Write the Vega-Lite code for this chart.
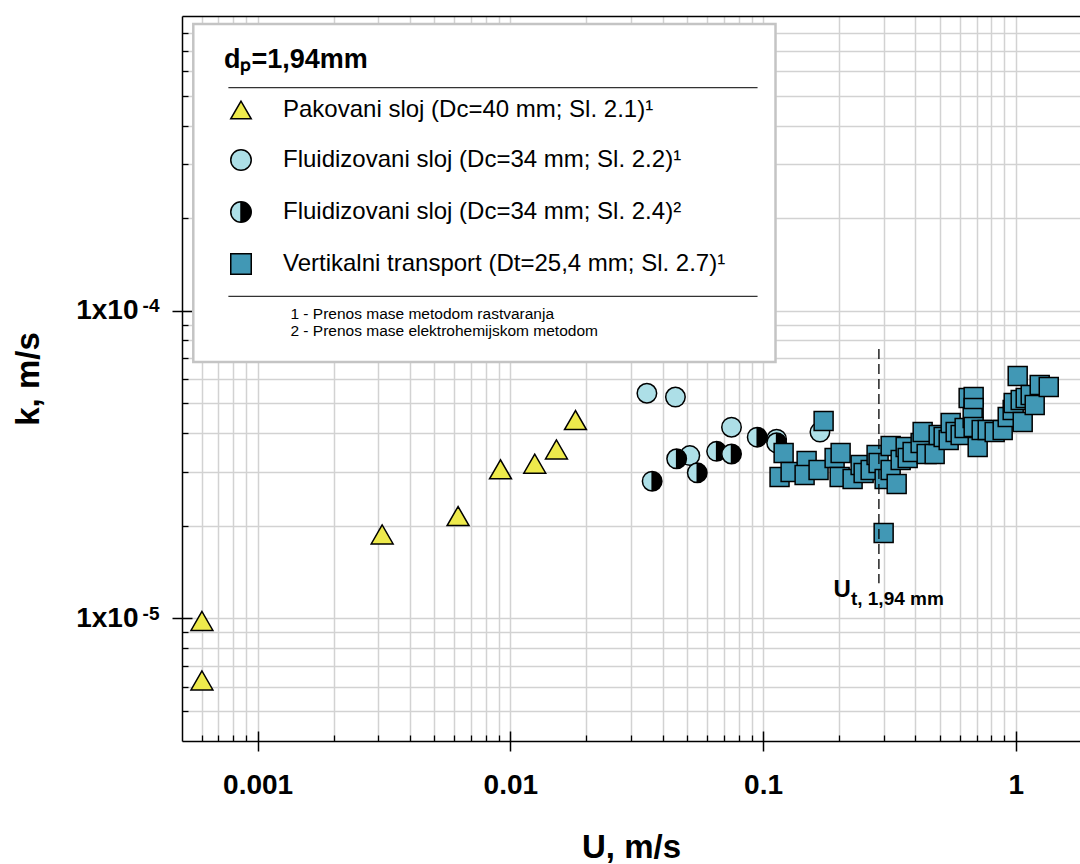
{
  "$schema": "https://vega.github.io/schema/vega-lite/v6.json",
  "width": 898,
  "height": 725,
  "autosize": "none",
  "padding": {"left": 182, "top": 16, "right": 0, "bottom": 123},
  "background": "white",
  "config": {"view": {"stroke": null}, "font": "Liberation Sans"},
  "data": {"values": [
    {"s":"A","U":0.000602,"k":0.00000628},
    {"s":"A","U":0.000602,"k":0.0000098},
    {"s":"A","U":0.00311,"k":0.00001873},
    {"s":"A","U":0.00621,"k":0.0000215},
    {"s":"A","U":0.00914,"k":0.0000305},
    {"s":"A","U":0.01249,"k":0.0000318},
    {"s":"A","U":0.01522,"k":0.0000354},
    {"s":"A","U":0.0181,"k":0.0000441},
    {"s":"B","U":0.0347,"k":0.0000539},
    {"s":"B","U":0.045,"k":0.0000524},
    {"s":"B","U":0.0513,"k":0.0000338},
    {"s":"B","U":0.075,"k":0.0000418},
    {"s":"B","U":0.1131,"k":0.0000382},
    {"s":"B","U":0.1679,"k":0.0000403},
    {"s":"C","U":0.0364,"k":0.0000279},
    {"s":"C","U":0.0455,"k":0.000033},
    {"s":"C","U":0.0549,"k":0.0000297},
    {"s":"C","U":0.0655,"k":0.0000349},
    {"s":"C","U":0.075,"k":0.0000342},
    {"s":"C","U":0.0948,"k":0.0000388},
    {"s":"C","U":0.1131,"k":0.0000372},
    {"s":"D","U":0.1206,"k":0.00003446},
    {"s":"D","U":0.1162,"k":0.00002879},
    {"s":"D","U":0.1285,"k":0.00002988},
    {"s":"D","U":0.1487,"k":0.00003246},
    {"s":"D","U":0.146,"k":0.00002923},
    {"s":"D","U":0.1658,"k":0.00003034},
    {"s":"D","U":0.1736,"k":0.0000438},
    {"s":"D","U":0.1919,"k":0.0000332},
    {"s":"D","U":0.2027,"k":0.00003446},
    {"s":"D","U":0.2009,"k":0.00002879},
    {"s":"D","U":0.2261,"k":0.00002837},
    {"s":"D","U":0.2432,"k":0.00003151},
    {"s":"D","U":0.25,"k":0.00002966},
    {"s":"D","U":0.2665,"k":0.00003034},
    {"s":"D","U":0.2813,"k":0.00003396},
    {"s":"D","U":0.2865,"k":0.00003198},
    {"s":"D","U":0.3027,"k":0.00002837},
    {"s":"D","U":0.3,"k":0.00001894},
    {"s":"D","U":0.3198,"k":0.00003632},
    {"s":"D","U":0.3198,"k":0.00003034},
    {"s":"D","U":0.3378,"k":0.00002733},
    {"s":"D","U":0.3503,"k":0.0000327},
    {"s":"D","U":0.3666,"k":0.00003605},
    {"s":"D","U":0.3734,"k":0.0000332},
    {"s":"D","U":0.3906,"k":0.00003472},
    {"s":"D","U":0.4202,"k":0.00003715},
    {"s":"D","U":0.428,"k":0.00004034},
    {"s":"D","U":0.4439,"k":0.00003421},
    {"s":"D","U":0.4775,"k":0.00003421},
    {"s":"D","U":0.4952,"k":0.00003944},
    {"s":"D","U":0.5183,"k":0.00003886},
    {"s":"D","U":0.5425,"k":0.00003799},
    {"s":"D","U":0.5525,"k":0.00004315},
    {"s":"D","U":0.5782,"k":0.00004034},
    {"s":"D","U":0.6051,"k":0.00003944},
    {"s":"D","U":0.6275,"k":0.00004156},
    {"s":"D","U":0.6508,"k":0.00005202},
    {"s":"D","U":0.6812,"k":0.00005241},
    {"s":"D","U":0.6812,"k":0.00004827},
    {"s":"D","U":0.6751,"k":0.00004478},
    {"s":"D","U":0.6812,"k":0.00004187},
    {"s":"D","U":0.7066,"k":0.00003605},
    {"s":"D","U":0.7328,"k":0.00004095},
    {"s":"D","U":0.7742,"k":0.00004095},
    {"s":"D","U":0.825,"k":0.00004034},
    {"s":"D","U":0.8874,"k":0.00004095},
    {"s":"D","U":0.9289,"k":0.00004512},
    {"s":"D","U":0.9721,"k":0.00004755},
    {"s":"D","U":0.9811,"k":0.00005011},
    {"s":"D","U":1.0174,"k":0.00006135},
    {"s":"D","U":1.0649,"k":0.00004347},
    {"s":"D","U":1.0457,"k":0.00005125},
    {"s":"D","U":1.0945,"k":0.00005202},
    {"s":"D","U":1.1455,"k":0.0000532},
    {"s":"D","U":1.188,"k":0.00004937},
    {"s":"D","U":1.2434,"k":0.00005734},
    {"s":"D","U":1.3502,"k":0.00005649}
  ]},
  "resolve": {"axis": {"x": "independent", "y": "independent"}},
  "layer": [
    {
      "data": {"values": [{}]},
      "mark": {"type": "rect", "fill": "white", "stroke": "#c4c4c4", "strokeWidth": 2.5},
      "encoding": {
        "x": {"datum": 0.0005564, "type": "quantitative",
          "scale": {"type": "log", "domain": [0.000502, 1.795], "nice": false},
          "axis": {"orient": "bottom", "grid": true, "gridColor": "#d2d2d2", "gridWidth": 1.5,
            "values": [0.0006,0.0007,0.0008,0.0009,0.001,0.002,0.003,0.004,0.005,0.006,0.007,0.008,0.009,0.01,0.02,0.03,0.04,0.05,0.06,0.07,0.08,0.09,0.1,0.2,0.3,0.4,0.5,0.6,0.7,0.8,0.9,1],
            "domain": false, "ticks": false, "labels": false, "title": null}},
        "x2": {"datum": 0.112},
        "y": {"datum": 0.000855, "type": "quantitative",
          "scale": {"type": "log", "domain": [0.00000399, 0.000908], "nice": false},
          "axis": {"orient": "left", "grid": true, "gridColor": "#d2d2d2", "gridWidth": 1.5,
            "values": [0.000005,0.000006,0.000007,0.000008,0.000009,0.00001,0.00002,0.00003,0.00004,0.00005,0.00006,0.00007,0.00008,0.00009,0.0001,0.0002,0.0003,0.0004,0.0005,0.0006,0.0007,0.0008],
            "domain": false, "ticks": false, "labels": false, "title": null}},
        "y2": {"datum": 0.0000681}
      }
    },
    {
      "data": {"values": [{}]},
      "mark": {"type": "rule", "stroke": "#333333", "strokeWidth": 1.4},
      "encoding": {
        "x": {"datum": 0.000766, "type": "quantitative", "axis": null},
        "x2": {"datum": 0.0951},
        "y": {"datum": 0.000531, "type": "quantitative", "axis": null}
      }
    },
    {
      "data": {"values": [{}]},
      "mark": {"type": "rule", "stroke": "#333333", "strokeWidth": 1.4},
      "encoding": {
        "x": {"datum": 0.000766, "type": "quantitative", "axis": null},
        "x2": {"datum": 0.0951},
        "y": {"datum": 0.0001113, "type": "quantitative", "axis": null}
      }
    },
    {
      "transform": [{"filter": "datum.s == 'A'"}],
      "mark": {"type": "point", "filled": true, "opacity": 1, "stroke": "black", "strokeWidth": 1.5, "size": 480},
      "encoding": {
        "x": {"field": "U", "type": "quantitative",
          "axis": {"orient": "bottom", "values": [0.001, 0.01, 0.1, 1], "format": "~g", "grid": false,
            "tickSize": 10, "tickWidth": 1.5, "tickColor": "black", "domainColor": "black", "domainWidth": 1.5,
            "labelFont": "Liberation Sans", "labelFontSize": 28, "labelFontWeight": "bold", "labelColor": "black", "labelPadding": 20,
            "title": "U, m/s", "titleFont": "Liberation Sans", "titleFontSize": 33, "titleFontWeight": "bold", "titleColor": "black", "titlePadding": 32}},
        "y": {"field": "k", "type": "quantitative",
          "axis": {"orient": "left", "values": [0.00001, 0.0001], "grid": false,
            "labelExpr": "'1x10'",
            "tickSize": 10, "tickWidth": 1.5, "tickColor": "black", "domainColor": "black", "domainWidth": 1.5,
            "labelFont": "Liberation Sans", "labelFontSize": 28, "labelFontWeight": "bold", "labelColor": "black", "labelPadding": 34,
            "title": "k, m/s", "titleFont": "Liberation Sans", "titleFontSize": 33, "titleFontWeight": "bold", "titleColor": "black", "titlePadding": 30}},
        "shape": {"field": "s", "type": "nominal",
          "scale": {"domain": ["A", "B", "C", "D"], "range": ["triangle-up", "circle",
            "M1,0A1,1 0 1,1 -1,0A1,1 0 1,1 1,0ZM0,-1L0,1M0.12,-0.993L0.12,0.993M0.24,-0.971L0.24,0.971M0.36,-0.933L0.36,0.933M0.48,-0.877L0.48,0.877M0.6,-0.8L0.6,0.8M0.72,-0.694L0.72,0.694M0.84,-0.543L0.84,0.543M0.94,-0.341L0.94,0.341",
            "square"]},
          "legend": {"orient": "none", "legendX": 42, "legendY": 31, "padding": 0,
            "title": "dₚ=1,94mm", "titleFont": "Liberation Sans", "titleFontSize": 27, "titleFontWeight": "bold", "titleColor": "black", "titlePadding": 24,
            "labelFont": "Liberation Sans", "labelFontSize": 24, "labelColor": "black", "labelLimit": 700, "labelOffset": 30,
            "symbolSize": 420, "symbolOffset": 5, "symbolOpacity": 1,
            "rowPadding": 24,
            "encode": {"symbols": {"update": {"stroke": {"value": "black"}, "strokeWidth": {"value": 1.5}}}},
            "labelExpr": "datum.value == 'A' ? 'Pakovani sloj (Dc=40 mm; Sl. 2.1)¹' : datum.value == 'B' ? 'Fluidizovani sloj (Dc=34 mm; Sl. 2.2)¹' : datum.value == 'C' ? 'Fluidizovani sloj (Dc=34 mm; Sl. 2.4)²' : 'Vertikalni transport (Dt=25,4 mm; Sl. 2.7)¹'"}},
        "fill": {"field": "s", "type": "nominal",
          "scale": {"domain": ["A", "B", "C", "D"], "range": ["#EEEA4C", "#ADDFE7", "#ADDFE7", "#4198B5"]},
          "legend": null}
      }
    },
    {
      "transform": [{"filter": "datum.s == 'B'"}],
      "mark": {"type": "point", "filled": true, "opacity": 1, "stroke": "black", "strokeWidth": 1.5, "size": 380},
      "encoding": {
        "x": {"field": "U", "type": "quantitative",
          "axis": {"orient": "bottom", "values": [0.001, 0.01, 0.1, 1], "grid": false, "domain": false, "labels": false, "title": null,
            "tickSize": -10, "tickWidth": 1.5, "tickColor": "black"}},
        "y": {"field": "k", "type": "quantitative",
          "axis": {"orient": "left", "values": [0.00001, 0.0001], "grid": false, "domain": false, "labels": false, "title": null,
            "tickSize": -10, "tickWidth": 1.5, "tickColor": "black"}},
        "shape": {"field": "s", "type": "nominal", "legend": null},
        "fill": {"field": "s", "type": "nominal", "legend": null}
      }
    },
    {
      "transform": [{"filter": "datum.s == 'C'"}],
      "mark": {"type": "point", "filled": true, "opacity": 1, "stroke": "black", "strokeWidth": 1.5, "size": 380,
        "fill": {"gradient": "linear", "x1": 0, "y1": 0, "x2": 1, "y2": 0, "stops": [{"offset": 0, "color": "#ADDFE7"}, {"offset": 0.5, "color": "#ADDFE7"}, {"offset": 0.5, "color": "#000000"}, {"offset": 1, "color": "#000000"}]}},
      "encoding": {
        "x": {"field": "U", "type": "quantitative",
          "axis": {"orient": "bottom", "values": [0.0006,0.0007,0.0008,0.0009,0.002,0.003,0.004,0.005,0.006,0.007,0.008,0.009,0.02,0.03,0.04,0.05,0.06,0.07,0.08,0.09,0.2,0.3,0.4,0.5,0.6,0.7,0.8,0.9], "grid": false, "domain": false, "labels": false, "title": null,
            "tickSize": -6, "tickWidth": 1.3, "tickColor": "black"}},
        "y": {"field": "k", "type": "quantitative",
          "axis": {"orient": "left", "values": [0.000005,0.000006,0.000007,0.000008,0.000009,0.00002,0.00003,0.00004,0.00005,0.00006,0.00007,0.00008,0.00009,0.0002,0.0003,0.0004,0.0005,0.0006,0.0007,0.0008], "grid": false, "domain": false, "labels": false, "title": null,
            "tickSize": -6, "tickWidth": 1.3, "tickColor": "black"}},
        "shape": {"field": "s", "type": "nominal", "legend": null}
      }
    },
    {
      "transform": [{"filter": "datum.s == 'D'"}],
      "mark": {"type": "point", "filled": true, "opacity": 1, "stroke": "black", "strokeWidth": 1.5, "size": 360},
      "encoding": {
        "x": {"field": "U", "type": "quantitative",
          "axis": {"orient": "top", "grid": false, "domain": true, "domainColor": "black", "domainWidth": 1.5, "ticks": false, "labels": false, "title": null}},
        "y": {"field": "k", "type": "quantitative",
          "axis": {"orient": "left", "values": [0.00001, 0.0001], "grid": false, "domain": false, "ticks": false, "tickSize": 0, "title": null,
            "labelExpr": "datum.value < 0.00005 ? '-5' : '-4'",
            "labelFont": "Liberation Sans", "labelFontSize": 19, "labelFontWeight": "bold", "labelColor": "black", "labelPadding": 23, "labelOffset": -5}},
        "shape": {"field": "s", "type": "nominal", "legend": null},
        "fill": {"field": "s", "type": "nominal", "legend": null}
      }
    },
    {
      "data": {"values": [{}]},
      "mark": {"type": "rule", "stroke": "black", "strokeWidth": 1.3, "strokeDash": [10, 5]},
      "encoding": {
        "x": {"datum": 0.2873, "type": "quantitative", "axis": null},
        "y": {"datum": 0.0000751, "type": "quantitative", "axis": null},
        "y2": {"datum": 0.000013}
      }
    },
    {
      "data": {"values": [{}]},
      "mark": {"type": "text", "text": "U", "font": "Liberation Sans", "fontSize": 24, "fontWeight": "bold", "color": "black", "align": "right", "baseline": "alphabetic", "dx": -28},
      "encoding": {
        "x": {"datum": 0.2873, "type": "quantitative", "axis": null},
        "y": {"datum": 0.00001172, "type": "quantitative", "axis": null}
      }
    },
    {
      "data": {"values": [{}]},
      "mark": {"type": "text", "text": "t, 1,94 mm", "font": "Liberation Sans", "fontSize": 19, "fontWeight": "bold", "color": "black", "align": "left", "baseline": "alphabetic", "dx": -28, "dy": 8},
      "encoding": {
        "x": {"datum": 0.2873, "type": "quantitative", "axis": null},
        "y": {"datum": 0.00001172, "type": "quantitative", "axis": null}
      }
    },
    {
      "data": {"values": [{}]},
      "mark": {"type": "text", "text": ["1 - Prenos mase metodom rastvaranja", "2 - Prenos mase elektrohemijskom metodom"], "font": "Liberation Sans", "fontSize": 15.5, "color": "black", "align": "left", "baseline": "alphabetic", "lineHeight": 17},
      "encoding": {
        "x": {"datum": 0.001348, "type": "quantitative", "axis": null},
        "y": {"datum": 0.000094, "type": "quantitative", "axis": null}
      }
    }
  ]
}
